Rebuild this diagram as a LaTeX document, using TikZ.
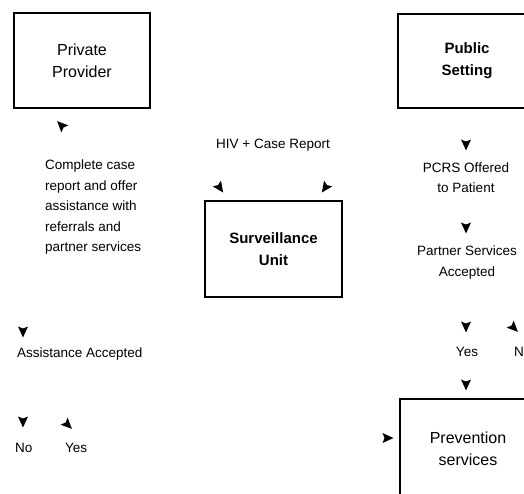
\documentclass[tikz,border=0pt]{standalone}
\usepackage{fontspec}
\setmainfont{Liberation Sans}
\begin{document}
\begin{tikzpicture}[x=1pt,y=-1pt,
  box/.style={draw, line width=1.5pt, inner sep=0pt},
  small/.style={inner sep=0pt, font=\fontsize{13.5}{20.5}\selectfont},
  title/.style={inner sep=0pt, align=center, font=\fontsize{16}{22}\selectfont},
  btitle/.style={inner sep=0pt, align=center, font=\fontsize{15}{22}\selectfont\bfseries},
  ahead/.pic={\fill (5.5,0) -- (-5.5,5) -- (-3.5,0) -- (-5.5,-5) -- cycle;}]
\useasboundingbox (0,0) rectangle (524,493);
\fill[white] (0,0) rectangle (524,493);

% boxes
\node[box, minimum width=136pt, minimum height=95pt, title] (pp) at (82,60.5) {Private\\Provider};
\node[box, minimum width=138pt, minimum height=94pt, btitle] (ps) at (467,61) {Public\\Setting};
\node[box, minimum width=137pt, minimum height=96pt, btitle] (su) at (273.5,249) {Surveillance\\Unit};
\node[box, minimum width=136pt, minimum height=120pt] (pv) at (468,459) {};
\node[title] (pvt) at (468,448.5) {Prevention\\services};

% texts
\node[small, anchor=west, align=left] (cc) at (45,207.5) {Complete case\\report and offer\\assistance with\\referrals and\\partner services};
\node[small] (hiv) at (273,145) {HIV + Case Report};
\node[small, align=center] (pcrs) at (466,177.5) {PCRS Offered\\to Patient};
\node[small, align=center] (psa) at (467,262.5) {Partner Services\\Accepted};
\node[small] (yesr) at (467,352) {Yes};
\node[small, anchor=west] (nor) at (514,352) {No};
\node[small, anchor=west] (aa) at (17,354) {Assistance Accepted};
\node[small, anchor=west] (nol) at (15,448) {No};
\node[small, anchor=west] (yesl) at (65,448) {Yes};

% arrowheads
\pic[rotate=135] (h1) at (61,125) {ahead};
\pic[rotate=-55] (h2) at (220,188) {ahead};
\pic[rotate=-125] (h3) at (325,188) {ahead};
\pic[rotate=-90] (h4) at (466,145) {ahead};
\pic[rotate=-90] (h5) at (466,228) {ahead};
\pic[rotate=-90] (h6) at (466,327) {ahead};
\pic[rotate=-45] (h7) at (514,328) {ahead};
\pic[rotate=-90] (h8) at (466,385) {ahead};
\pic[rotate=0] (h9) at (388,438) {ahead};
\pic[rotate=-90] (h10) at (23,332) {ahead};
\pic[rotate=-90] (h11) at (23,422) {ahead};
\pic[rotate=-45] (h12) at (68,425) {ahead};
\end{tikzpicture}
\end{document}
